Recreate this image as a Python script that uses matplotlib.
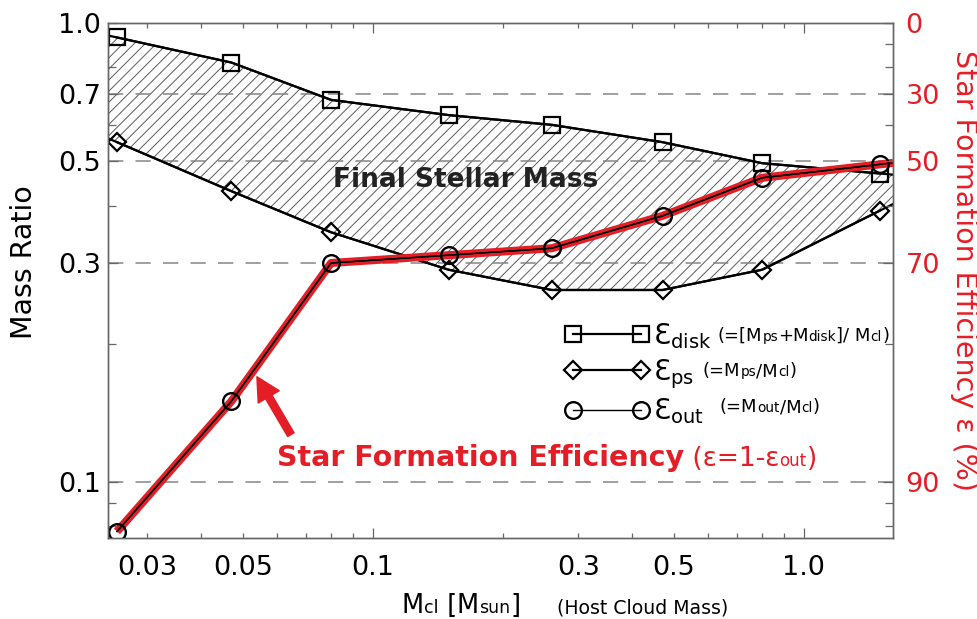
import numpy as np
import matplotlib
matplotlib.use("Agg")
import matplotlib.pyplot as plt
from matplotlib.ticker import FixedLocator, FuncFormatter
from matplotlib.legend_handler import HandlerLine2D
from matplotlib.offsetbox import TextArea, HPacker, AnnotationBbox

# ---- data -------------------------------------------------------------
cloud_mass = [0.0255, 0.047, 0.080, 0.15, 0.26, 0.47, 0.80, 1.50]   # M_cl [M_sun]
eps_disk = [0.93, 0.82, 0.68, 0.63, 0.60, 0.55, 0.495, 0.47]       # (M_ps + M_disk) / M_cl
eps_ps = [0.55, 0.43, 0.35, 0.29, 0.262, 0.262, 0.29, 0.39]        # M_ps / M_cl
eps_out = [0.078, 0.150, 0.300, 0.312, 0.323, 0.380, 0.46, 0.492]  # M_out / M_cl

x_tick_values = [0.03, 0.05, 0.1, 0.3, 0.5, 1.0]
x_tick_labels = ["0.03", "0.05", "0.1", "0.3", "0.5", "1.0"]
x_minor_values = [0.03, 0.04, 0.05, 0.06, 0.07, 0.08, 0.09,
                  0.2, 0.3, 0.4, 0.5, 0.6, 0.7, 0.8, 0.9]
y_tick_values = [0.1, 0.3, 0.5, 0.7, 1.0]
y_tick_labels = ["0.1", "0.3", "0.5", "0.7", "1.0"]
y_minor_values = [0.08, 0.09, 0.2, 0.4, 0.6, 0.8, 0.9]
sfe_tick_labels = ["90", "70", "50", "30", "0"]   # SFE (%) = 100 (1 - ratio)

x_range = (0.0243, 1.61)
y_range = (0.0755, 1.0)

# ---- style ------------------------------------------------------------
RED = "#e41e26"
AXC = "#666666"
plt.rcParams["font.family"] = ["DejaVu Sans"]
plt.rcParams["mathtext.fontset"] = "dejavusans"
plt.rcParams["hatch.color"] = "#5a5a5a"
plt.rcParams["hatch.linewidth"] = 0.7

W, H = 978, 619
fig = plt.figure(figsize=(W / 100, H / 100), dpi=100)
ax = fig.add_axes([108 / W, 1 - 538 / H, (893 - 108) / W, (538 - 23) / H])


def px(x, y):
    """Figure-pixel position (origin top-left) to figure fraction."""
    return x / W, 1 - y / H


def extend(x, y, x0=None, x1=None):
    """Continue a log-log polyline straight on to the given x limits."""
    lx, ly = np.log10(x), np.log10(y)
    xs, ys = list(x), list(y)
    if x0 is not None:
        yl = ly[0] + (ly[1] - ly[0]) * (np.log10(x0) - lx[0]) / (lx[1] - lx[0])
        xs, ys = [x0] + xs, [10 ** yl] + ys
    if x1 is not None:
        yr = ly[-1] + (ly[-1] - ly[-2]) * (np.log10(x1) - lx[-1]) / (lx[-1] - lx[-2])
        xs, ys = xs + [x1], ys + [10 ** yr]
    return np.array(xs), np.array(ys)


ax.set_xscale("log")
ax.set_yscale("log")
ax.set_xlim(*x_range)
ax.set_ylim(*y_range)

# dashed reference levels
for v in y_tick_values[:-1]:
    ax.axhline(v, color="#858585", lw=1.1, ls=(0, (10, 8)), zorder=1.5)

# final stellar mass band
xd, yd = extend(cloud_mass, eps_disk, *x_range)
xp, yp = extend(cloud_mass, eps_ps, *x_range)
ax.fill_between(xd, yp, yd, facecolor="none", edgecolor="#5a5a5a",
                hatch="///", linewidth=0, zorder=1)

ax.plot(xd, yd, color="k", lw=1.6, zorder=3)
ax.plot(xp, yp, color="k", lw=1.6, zorder=3)
h_disk, = ax.plot(cloud_mass, eps_disk, color="k", lw=1.6, marker="s", ms=11.5,
                  mfc="none", mec="k", mew=1.6, zorder=4)
h_ps, = ax.plot(cloud_mass, eps_ps, color="k", lw=1.6, marker="D", ms=9,
                mfc="none", mec="k", mew=1.6, zorder=4)

# outflow fraction / star formation efficiency curve
xo, yo = extend(cloud_mass, eps_out, None, x_range[1])
ax.plot(xo, yo, color=RED, lw=5.8, solid_capstyle="butt", zorder=5)
ax.plot(xo, yo, color="k", lw=1.0, zorder=6)
h_out, = ax.plot(cloud_mass, eps_out, color="k", lw=1.0, marker="o", ms=12,
                 mfc="none", mec="k", mew=1.7, zorder=7)

# ticks
label_of = dict(zip(x_tick_values, x_tick_labels))
fmt_x = FuncFormatter(lambda v, p: next((label_of[k] for k in label_of
                                         if abs(k - v) < 1e-9), ""))
ax.xaxis.set_major_locator(FixedLocator([0.1, 1.0]))
ax.xaxis.set_minor_locator(FixedLocator(x_minor_values))
ax.xaxis.set_major_formatter(fmt_x)
ax.xaxis.set_minor_formatter(fmt_x)

ax.yaxis.set_major_locator(FixedLocator(y_tick_values))
ax.yaxis.set_major_formatter(FuncFormatter(
    lambda v, p: dict(zip(y_tick_values, y_tick_labels)).get(round(v, 3), "")))
ax.yaxis.set_minor_locator(FixedLocator(y_minor_values))
ax.yaxis.set_minor_formatter(FuncFormatter(lambda v, p: ""))

ax.tick_params(axis="x", which="both", direction="in", top=True, bottom=True,
               color=AXC, labelsize=19.5, pad=12)
ax.tick_params(axis="x", which="major", length=7.5, width=0.9)
ax.tick_params(axis="x", which="minor", length=3.8, width=0.9)
ax.tick_params(axis="y", which="both", direction="in", left=True, right=False,
               color=AXC, labelsize=19.5, pad=5)
ax.tick_params(axis="y", which="major", length=7.5, width=0.9)
ax.tick_params(axis="y", which="minor", length=6, width=0.9)

ax2 = ax.twinx()
ax2.set_yscale("log")
ax2.set_ylim(*y_range)
ax2.yaxis.set_major_locator(FixedLocator(y_tick_values))
ax2.yaxis.set_major_formatter(FuncFormatter(
    lambda v, p: dict(zip(y_tick_values, sfe_tick_labels)).get(round(v, 3), "")))
ax2.yaxis.set_minor_locator(FixedLocator(y_minor_values))
ax2.yaxis.set_minor_formatter(FuncFormatter(lambda v, p: ""))
ax2.tick_params(axis="y", which="both", direction="in", color=AXC,
                labelcolor=RED, labelsize=19.5, pad=9)
ax2.tick_params(axis="y", which="major", length=7.5, width=0.9)
ax2.tick_params(axis="y", which="minor", length=6, width=0.9)

for a in (ax, ax2):
    for s in a.spines.values():
        s.set_color(AXC)
        s.set_linewidth(1.0)

# axis titles
fig.text(*px(24, 262), "Mass Ratio", rotation=90, ha="center", va="center",
         fontsize=20.5)
fig.text(*px(964, 271), "Star Formation Efficiency \u03b5 (%)", rotation=-90,
         ha="center", va="center", fontsize=20.5, color=RED)


def packed(parts, xy, align=(0, 0.5), color="k"):
    """Row of text pieces of mixed size sharing one baseline."""
    boxes = [TextArea(s, textprops=dict(fontsize=fs, color=color,
                                        fontweight=fw))
             for s, fs, fw in parts]
    row = HPacker(children=boxes, align="baseline", pad=0, sep=0)
    ab = AnnotationBbox(row, px(*xy), xycoords="figure fraction",
                        box_alignment=align, frameon=False, pad=0,
                        annotation_clip=False)
    fig.add_artist(ab)
    return ab


packed([("M", 18.5, "normal"), ("cl", 12.5, "normal"), (" [", 18.5, "normal"),
        ("M", 18.5, "normal"), ("sun", 12.5, "normal"), ("]", 18.5, "normal")],
       (402, 606))
fig.text(*px(557, 608), "(Host Cloud Mass)", ha="left", va="center", fontsize=13.6)

# in-plot labels
ax.text(0.455, 0.695, "Final Stellar Mass", transform=ax.transAxes,
        ha="center", va="center", fontsize=19, fontweight="bold",
        color="#222222", zorder=8)

packed([("Star Formation Efficiency", 20.5, "bold"),
        (" (\u03b5=1-\u03b5", 19, "normal"), ("out", 12, "normal"),
        (")", 19, "normal")], (277, 458), color=RED)

# arrow pointing at the efficiency curve
lx = np.log10(cloud_mass[1:3])
ly = np.log10(eps_out[1:3])
x_tip = 10 ** (lx[0] + 0.22 * (lx[1] - lx[0]))
y_tip = 10 ** (ly[0] + 0.22 * (ly[1] - ly[0]))
ax.annotate("", xy=(x_tip, y_tip), xycoords="data",
            xytext=(27, -46), textcoords="offset points",
            arrowprops=dict(arrowstyle="simple,head_width=1.25,head_length=1.2,tail_width=0.38",
                            color=RED, shrinkA=0, shrinkB=5, mutation_scale=14),
            zorder=8)

# legend
leg = ax.legend([h_disk, h_ps, h_out],
                ["$\\mathrm{\u0190_{disk}}$", "$\\mathrm{\u0190_{ps}}$",
                 "$\\mathrm{\u0190_{out}}$"],
                handler_map={h: HandlerLine2D(marker_pad=0, numpoints=2)
                             for h in (h_disk, h_ps, h_out)},
                loc="upper left", bbox_to_anchor=px(573, 321),
                bbox_transform=fig.transFigure, frameon=False,
                fontsize=20, handlelength=2.45, handletextpad=0.42,
                labelspacing=0.22, borderpad=0, borderaxespad=0)
leg.set_zorder(9)

small = 9.8
big = 13
packed([("(=[M", big, "normal"), ("ps", small, "normal"), ("+M", big, "normal"),
        ("disk", small, "normal"), ("]/ M", big, "normal"), ("cl", small, "normal"),
        (")", big, "normal")], (718, 336))
packed([("(=M", big, "normal"), ("ps", small, "normal"), ("/M", big, "normal"),
        ("cl", small, "normal"), (")", big, "normal")], (703, 371))
packed([("(=M", big, "normal"), ("out", small, "normal"), ("/M", big, "normal"),
        ("cl", small, "normal"), (")", big, "normal")], (720, 407))

fig.savefig("out.png", dpi=100)
